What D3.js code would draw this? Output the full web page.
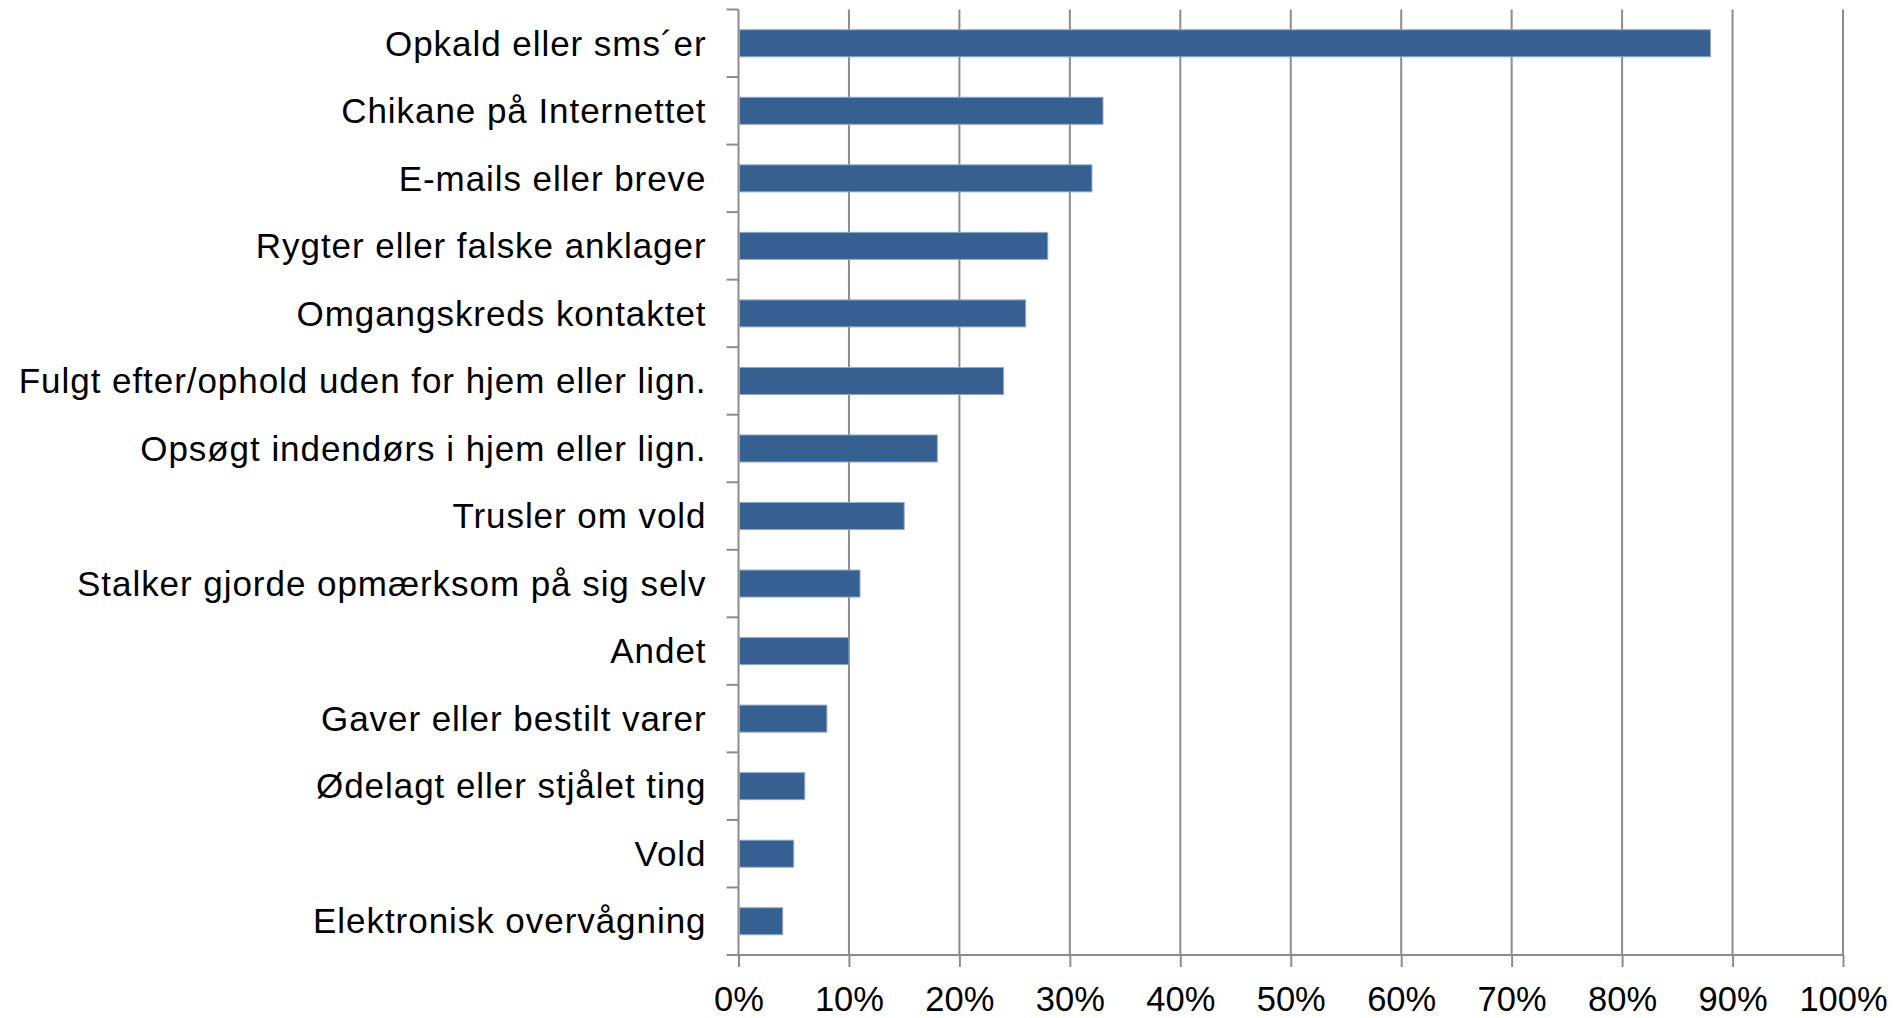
<!DOCTYPE html>
<html>
<head>
<meta charset="utf-8">
<script src="https://cdn.jsdelivr.net/npm/d3@7"></script>
<style>
  body { margin: 0; background: #fff; }
  svg text { font-family: "Liberation Sans", Arial, sans-serif; fill: #000; }
  .grid line { stroke: #8c8c8c; stroke-width: 2; }
  .axis path, .axis line { stroke: #8c8c8c; stroke-width: 2; }
</style>
</head>
<body>
<div id="chart"></div>
<script>
var categories = ["Opkald eller sms´er", "Chikane på Internettet", "E-mails eller breve",
                  "Rygter eller falske anklager", "Omgangskreds kontaktet",
                  "Fulgt efter/ophold uden for hjem eller lign.", "Opsøgt indendørs i hjem eller lign.",
                  "Trusler om vold", "Stalker gjorde opmærksom på sig selv", "Andet",
                  "Gaver eller bestilt varer", "Ødelagt eller stjålet ting", "Vold",
                  "Elektronisk overvågning"];
var values = [88, 33, 32, 28, 26, 24, 18, 15, 11, 10, 8, 6, 5, 4]; // percent
var xTicks = [0, 10, 20, 30, 40, 50, 60, 70, 80, 90, 100];

var totalW = 1899, totalH = 1018;
var margin = { left: 738.5, right: 56, top: 9.5, bottom: 63 };
var width = totalW - margin.left - margin.right;
var height = totalH - margin.top - margin.bottom;

var svg = d3.select("#chart").append("svg")
    .attr("width", totalW).attr("height", totalH);
var g = svg.append("g")
    .attr("transform", "translate(" + margin.left + "," + margin.top + ")");

var x = d3.scaleLinear().domain([0, 100]).range([0, width]);
var y = d3.scaleBand().domain(categories).range([0, height]).paddingInner(0.6).paddingOuter(0.3);

// vertical gridlines
g.append("g").attr("class", "grid")
  .selectAll("line").data(xTicks.slice(1)).join("line")
    .attr("x1", d => x(d)).attr("x2", d => x(d))
    .attr("y1", 0).attr("y2", height);

// x axis at bottom
var xAxis = g.append("g").attr("class", "axis")
    .attr("transform", "translate(0," + height + ")")
    .call(d3.axisBottom(x).tickValues(xTicks).tickSize(12).tickSizeOuter(0).tickFormat(d => d + "%"));
xAxis.select(".domain").attr("d", "M-12,0H" + width);
xAxis.selectAll("text").attr("font-size", 34.5).attr("y", 0).attr("dy", 56);

// y axis with ticks between categories
var yAxis = g.append("g").attr("class", "axis");
yAxis.append("line").attr("x1", 0).attr("x2", 0).attr("y1", 0).attr("y2", height);
var step = y.step();
yAxis.selectAll("line.tick").data(d3.range(categories.length)).join("line")
    .attr("class", "tick")
    .attr("x1", -12).attr("x2", 0)
    .attr("y1", d => d * step).attr("y2", d => d * step);

g.append("g").selectAll("text").data(categories).join("text")
    .attr("x", -32)
    .attr("y", d => y(d) + y.bandwidth() / 2)
    .attr("dy", "0.35em")
    .attr("text-anchor", "end")
    .attr("font-size", 35)
    .attr("letter-spacing", 0.95)
    .text(d => d);

// bars
g.append("g").selectAll("rect").data(values).join("rect")
    .attr("x", 1)
    .attr("y", (d, i) => y(categories[i]))
    .attr("width", d => x(d) - 1)
    .attr("height", y.bandwidth())
    .attr("fill", "#366092")
    .attr("stroke", "#8fa9cc")
    .attr("stroke-width", 1);
</script>
</body>
</html>
